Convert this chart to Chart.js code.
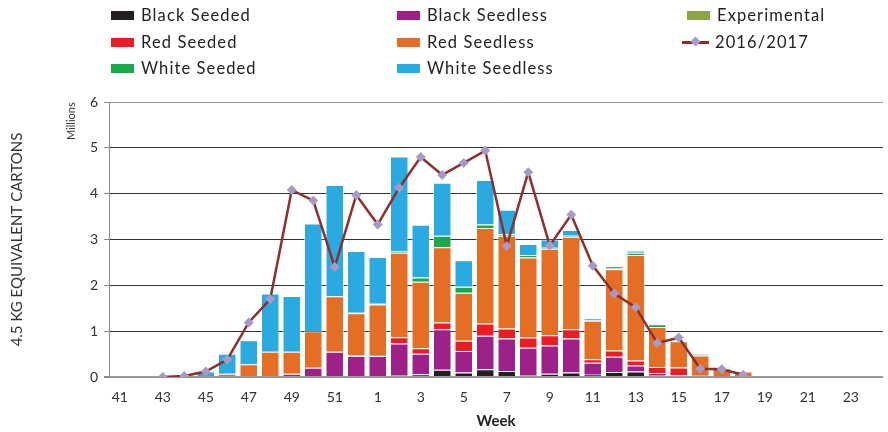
<!DOCTYPE html>
<html>
<head>
<meta charset="utf-8">
<script src="https://cdn.jsdelivr.net/npm/chart.js@4.4.1/dist/chart.umd.min.js"></script>
<style>
  body { margin: 0; background: #fff; font-family: Lato, "Open Sans", sans-serif; }
  #wrap { position: relative; width: 888px; height: 432px; }
  #legend { position: absolute; left: 0; top: 0; width: 888px; height: 90px; }
  .item { position: absolute; display: flex; align-items: center; height: 20px; font-size: 16.5px;
          letter-spacing: 1.1px; color: #222; white-space: nowrap; }
  .box { width: 23px; height: 9px; margin-right: 7px; }
  .lineKey { position: relative; width: 27px; height: 11px; margin-right: 6px; }
  .lineKey span.l { position: absolute; left: 0; top: 4px; width: 27px; height: 3px; }
  .lineKey span.d { position: absolute; left: 10px; top: 1.5px; width: 7px; height: 7px; transform: rotate(45deg); }
  #millions { position: absolute; left: 64px; top: 140px; font-size: 11px; color: #333;
              transform: rotate(-90deg); transform-origin: left top; }
</style>
</head>
<body>
<div id="wrap">
  <canvas id="chart" width="888" height="432"></canvas>
  <div id="legend"></div>
  <div id="millions">Millions</div>
</div>
<script>
const weeks = ['41','42','43','44','45','46','47','48','49','50','51','52',
  '1','2','3','4','5','6','7','8','9','10','11','12','13','14','15','16','17','18',
  '19','20','21','22','23','24'];

//          41 ........................................... 52 | 1 ............................................................................ 18 | 19..24
const blackSeeded   = [0,0,0,0,0,0,0,0,0,0,0.02,0,        0,0.04,0.06,0.16,0.10,0.17,0.13,0.04,0.07,0.10,0.05,0.11,0.12,0.04,0.02,0,0,0,  0,0,0,0,0,0];
const blackSeedless = [0,0,0,0,0,0,0,0.02,0.07,0.20,0.53,0.46, 0.46,0.69,0.45,0.88,0.47,0.73,0.71,0.60,0.62,0.74,0.26,0.33,0.13,0.05,0.02,0.02,0.01,0, 0,0,0,0,0,0];
const redSeeded     = [0,0,0,0,0,0,0,0,0,0,0,0.01,       0.02,0.14,0.12,0.15,0.22,0.27,0.22,0.22,0.22,0.20,0.08,0.14,0.11,0.13,0.17,0.01,0,0, 0,0,0,0,0,0];
const redSeedless   = [0,0,0,0,0,0.07,0.28,0.53,0.48,0.80,1.21,0.92, 1.10,1.84,1.45,1.64,1.05,2.08,2.02,1.75,1.89,2.02,0.84,1.77,2.30,0.87,0.57,0.44,0.18,0.12, 0,0,0,0,0,0];
const whiteSeeded   = [0,0,0,0,0,0,0,0,0,0,0.01,0.01,    0.02,0.03,0.09,0.25,0.13,0.08,0.04,0.05,0.02,0.02,0.01,0.02,0.05,0.06,0.02,0.03,0.02,0, 0,0,0,0,0,0];
const whiteSeedless = [0,0,0,0,0.12,0.44,0.52,1.27,1.22,2.35,2.42,1.35, 1.02,2.07,1.15,1.16,0.58,0.97,0.53,0.24,0.18,0.13,0.04,0.05,0.05,0,0,0,0,0, 0,0,0,0,0,0];
const experimental  = [0.02,0,0,0,0,0,0,0,0,0,0,0,       0,0,0,0,0,0,0,0,0,0,0,0,0,0,0,0,0,0, 0,0,0,0,0,0];
const season1617    = [null,null,0.0,0.02,0.12,0.38,1.19,1.70,4.08,3.85,2.40,3.97,
  3.33,4.13,4.80,4.41,4.67,4.94,2.86,4.47,2.87,3.54,2.43,1.82,1.52,0.74,0.86,0.18,0.17,0.05,
  null,null,null,null,null,null];
const yTicks = [0, 1, 2, 3, 4, 5, 6];

const colors = {
  'Black Seeded': '#231f20',
  'Black Seedless': '#9e2189',
  'Red Seeded': '#ec1c24',
  'Red Seedless': '#e46e24',
  'White Seeded': '#1aa94b',
  'White Seedless': '#29abe2',
  'Experimental': '#8aa645',
  '2016/2017': '#8e2f2c'
};

function bar(label, data) {
  return {
    type: 'bar', label: label, data: data, stack: 'crop', order: 2,
    backgroundColor: colors[label],
    borderColor: 'rgba(255,255,255,0.6)', borderWidth: 1,
    barPercentage: 0.86, categoryPercentage: 1
  };
}

const datasets = [
  bar('Black Seeded', blackSeeded),
  bar('Black Seedless', blackSeedless),
  bar('Red Seeded', redSeeded),
  bar('Red Seedless', redSeedless),
  bar('White Seeded', whiteSeeded),
  bar('White Seedless', whiteSeedless),
  bar('Experimental', experimental),
  {
    type: 'line', label: '2016/2017', data: season1617, stack: 'line', order: 0,
    borderColor: colors['2016/2017'], borderWidth: 2.5, tension: 0,
    pointStyle: 'rectRot', pointRadius: 5, pointHoverRadius: 5,
    pointBackgroundColor: '#a79bc6', pointBorderColor: '#a79bc6', pointBorderWidth: 0
  }
];

//..legend laid out in three columns like the original
const legendGrid = [
  ['Black Seeded', 111, 15], ['Black Seedless', 397, 15], ['Experimental', 687, 15],
  ['Red Seeded', 111, 42], ['Red Seedless', 397, 42], ['2016/2017', 682, 42],
  ['White Seeded', 111, 68], ['White Seedless', 397, 68]
];
const legend = document.getElementById('legend');
legendGrid.forEach(([name, x, y]) => {
  const el = document.createElement('div');
  el.className = 'item';
  el.style.left = x + 'px';
  el.style.top = (y - 10) + 'px';
  if (name === '2016/2017') {
    el.innerHTML = `<span class="lineKey"><span class="l" style="background:${colors[name]}"></span>` +
      `<span class="d" style="background:#a79bc6"></span></span><span>${name}</span>`;
  } else {
    el.innerHTML = `<span class="box" style="background:${colors[name]}"></span><span>${name}</span>`;
  }
  legend.appendChild(el);
});

new Chart(document.getElementById('chart'), {
  data: { labels: weeks, datasets: datasets },
  options: {
    responsive: false,
    animation: false,
    layout: { padding: { top: 102, right: 0, left: 0, bottom: 0 } },
    plugins: { legend: { display: false }, tooltip: { enabled: false } },
    scales: {
      x: {
        stacked: true,
        grid: { display: false },
        border: { display: false },
        ticks: {
          autoSkip: false, maxRotation: 0, padding: 4,
          color: '#333', font: { family: 'Lato', size: 14 },
          callback: function (v, i) { return i % 2 === 0 ? weeks[i] : ''; }
        },
        title: { display: true, text: 'Week', color: '#222',
                 font: { family: 'Lato', size: 15, weight: 'bold' }, padding: { top: 6, bottom: 2 } },
        afterFit: s => { s.height = 55; }
      },
      y: {
        stacked: true, min: 0, max: 6,
        afterBuildTicks: s => { s.ticks = yTicks.map(v => ({ value: v })); },
        grid: {
          color: ctx => ctx.tick.value === 0 ? '#999' : (ctx.tick.value === 6 ? '#999' : '#333'),
          lineWidth: ctx => ctx.tick.value === 0 ? 2 : 1,
          drawTicks: true, tickLength: 5, tickColor: '#888'
        },
        border: { display: true, color: '#888', width: 1 },
        ticks: { color: '#333', padding: 6, font: { family: 'Lato', size: 14 } },
        title: { display: true, text: '4.5 KG EQUIVALENT CARTONS', color: '#333',
                 font: { family: 'Lato', size: 15 }, padding: { top: 8, bottom: 4 } },
        afterFit: s => { s.width = 109; }
      }
    }
  }
});
</script>
</body>
</html>
